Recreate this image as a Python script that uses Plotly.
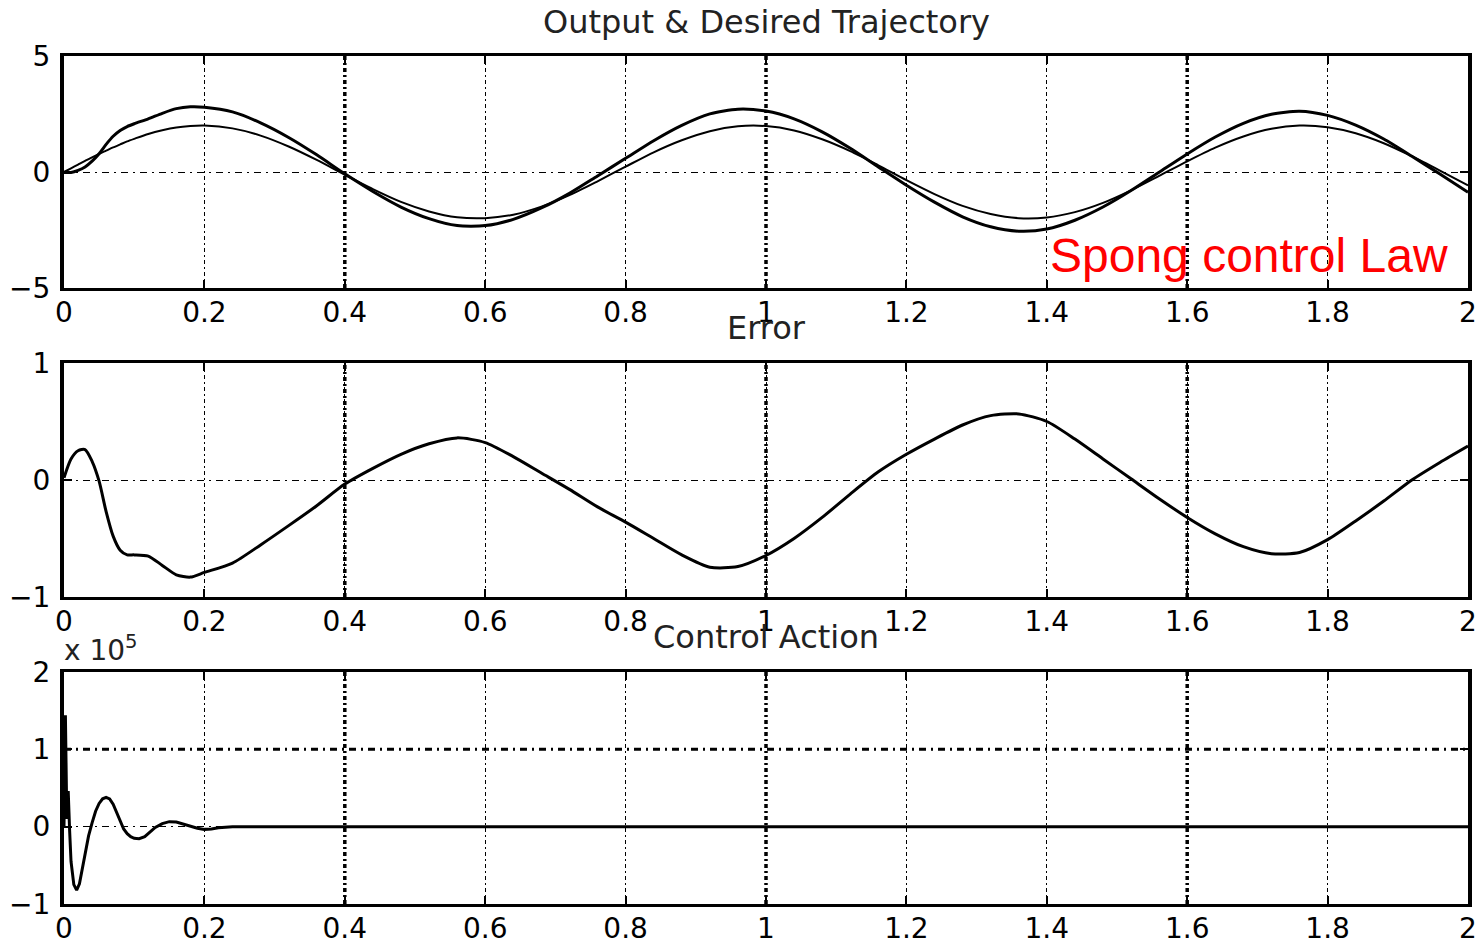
import plotly.graph_objects as go

# ---------------- data ----------------
t = [0.00, 0.01, 0.02, 0.03, 0.04, 0.05, 0.06, 0.07, 0.08, 0.09, 0.10,
     0.12, 0.14, 0.16, 0.18, 0.20, 0.24, 0.28, 0.32, 0.36, 0.40, 0.44,
     0.48, 0.52, 0.56, 0.60, 0.64, 0.68, 0.72, 0.76, 0.80, 0.84, 0.88,
     0.92, 0.96, 1.00, 1.04, 1.08, 1.12, 1.16, 1.20, 1.24, 1.28, 1.32,
     1.36, 1.40, 1.44, 1.48, 1.52, 1.56, 1.60, 1.64, 1.68, 1.72, 1.76,
     1.80, 1.84, 1.88, 1.92, 1.96, 2.00]

desired = [0.00, 0.16, 0.32, 0.48, 0.63, 0.78, 0.92, 1.06, 1.19, 1.32, 1.43,
           1.64, 1.80, 1.92, 1.98, 2.00, 1.88, 1.57, 1.10, 0.52, -0.12, -0.74,
           -1.29, -1.70, -1.95, -1.99, -1.84, -1.49, -1.00, -0.40, 0.23, 0.85, 1.37,
           1.76, 1.97, 1.98, 1.79, 1.41, 0.90, 0.29, -0.35, -0.95, -1.46, -1.81,
           -1.99, -1.96, -1.73, -1.33, -0.79, -0.17, 0.46, 1.05, 1.53, 1.86, 2.00,
           1.93, 1.67, 1.24, 0.68, 0.06, -0.58]

output = [-0.02, -0.02, 0.07, 0.22, 0.47, 0.79, 1.19, 1.54, 1.79, 1.96, 2.08,
          2.29, 2.53, 2.73, 2.81, 2.79, 2.59, 2.12, 1.49, 0.74, -0.08, -0.84,
          -1.51, -2.01, -2.31, -2.31, -2.04, -1.55, -0.92, -0.17, 0.59, 1.35, 2.01,
          2.505, 2.71, 2.625, 2.29, 1.73, 1.02, 0.22, -0.57, -1.30, -1.93, -2.36,
          -2.55, -2.46, -2.08, -1.51, -0.80, -0.01, 0.78, 1.51, 2.10, 2.49, 2.62,
          2.44, 2.02, 1.42, 0.68, -0.09, -0.87]

error = [0.02, 0.18, 0.25, 0.26, 0.16, -0.01, -0.27, -0.48, -0.60, -0.64, -0.64,
         -0.65, -0.73, -0.81, -0.83, -0.79, -0.71, -0.555, -0.39, -0.22, -0.035, 0.10,
         0.22, 0.31, 0.36, 0.32, 0.20, 0.06, -0.08, -0.23, -0.36, -0.50, -0.64,
         -0.745, -0.74, -0.645, -0.50, -0.32, -0.12, 0.07, 0.22, 0.35, 0.47, 0.55,
         0.565, 0.50, 0.35, 0.18, 0.01, -0.16, -0.32, -0.46, -0.57, -0.63, -0.62,
         -0.51, -0.35, -0.18, 0.00, 0.15, 0.29]

t_u = [0.000, 0.002, 0.004, 0.006, 0.008, 0.010, 0.014, 0.018, 0.022, 0.026,
       0.030, 0.035, 0.040, 0.045, 0.050, 0.055, 0.060, 0.065, 0.070, 0.075,
       0.080, 0.085, 0.090, 0.095, 0.100, 0.107, 0.115, 0.120, 0.125, 0.130,
       0.140, 0.150, 0.160, 0.170, 0.180, 0.190, 0.200, 0.210, 0.220, 0.240,
       0.300, 2.000]
control_e5 = [0.00, 1.44, 0.10, 0.46, -0.05, -0.45, -0.75, -0.82, -0.74, -0.55,
              -0.35, -0.12, 0.05, 0.20, 0.30, 0.36, 0.38, 0.36, 0.29, 0.18,
              0.06, -0.03, -0.09, -0.13, -0.15, -0.155, -0.13, -0.09, -0.05, -0.01,
              0.04, 0.065, 0.06, 0.03, 0.00, -0.02, -0.035, -0.03, -0.015, 0.00,
              0.00, 0.00]

x_ticks = [0, 0.2, 0.4, 0.6, 0.8, 1.0, 1.2, 1.4, 1.6, 1.8, 2.0]
x_ticktext = ["0", "0.2", "0.4", "0.6", "0.8", "1", "1.2", "1.4", "1.6", "1.8", "2"]
y1_ticks = [-5, 0, 5]
y2_ticks = [-1, 0, 1]
y3_ticks = [-1, 0, 1, 2]
heavy_grid_x = [0.4, 1.0, 1.6]
heavy_grid_y3 = [1]

titles = ["Output & Desired Trajectory", "Error", "Control Action"]

# ---------------- figure ----------------
W, H = 1484, 939
ML, MR = 64, 16
tick_font = dict(family="DejaVu Sans", size=28, color="black")
XDASH = "4px,3px,2px,3px"
YDASH = "7px,5px,2px,5px"

def pix_domain(top, bottom):
    return [1 - bottom / H, 1 - top / H]

domains = [pix_domain(56, 288), pix_domain(363, 597), pix_domain(672, 904)]
yranges = [[-5, 5], [-1, 1], [-1, 2]]
yticks = [y1_ticks, y2_ticks, y3_ticks]

smooth = dict(shape="spline", smoothing=0.7)
fig = go.Figure()
fig.add_trace(go.Scatter(x=t, y=desired, mode="lines",
                         line=dict(color="black", width=2, **smooth),
                         xaxis="x", yaxis="y", showlegend=False))
fig.add_trace(go.Scatter(x=t, y=output, mode="lines",
                         line=dict(color="black", width=3, **smooth),
                         xaxis="x", yaxis="y", showlegend=False))
fig.add_trace(go.Scatter(x=t, y=error, mode="lines",
                         line=dict(color="black", width=3, **smooth),
                         xaxis="x2", yaxis="y2", showlegend=False))
fig.add_trace(go.Scatter(x=t_u, y=control_e5, mode="lines",
                         line=dict(color="black", width=3),
                         xaxis="x3", yaxis="y3", showlegend=False))

layout = dict(
    width=W, height=H,
    margin=dict(l=ML, r=MR, t=0, b=0),
    paper_bgcolor="white", plot_bgcolor="white",
    showlegend=False,
)
for i in range(3):
    sx = "" if i == 0 else str(i + 1)
    layout["xaxis" + sx] = dict(
        domain=[0, 1], range=[0, 2], anchor="y" + sx,
        tickmode="array", tickvals=x_ticks, ticktext=x_ticktext,
        showgrid=True, gridcolor="black", gridwidth=1.3, griddash=XDASH,
        zeroline=False, showline=True, linecolor="black", linewidth=3,
        mirror="allticks", ticks="inside", ticklen=8, tickwidth=1.5, tickcolor="black",
        tickfont=tick_font, automargin=False, ticklabelstandoff=-3,
    )
    layout["yaxis" + sx] = dict(
        domain=domains[i], range=yranges[i], anchor="x" + sx,
        tickmode="array", tickvals=yticks[i],
        showgrid=True, gridcolor="black", gridwidth=1.3, griddash=YDASH,
        zeroline=False, showline=True, linecolor="black", linewidth=4,
        mirror="allticks", ticks="inside", ticklen=8, tickwidth=1.5, tickcolor="black",
        tickfont=tick_font, automargin=False, ticklabelstandoff=4,
    )
fig.update_layout(**layout)

# heavier grid lines (as in the reference image)
for i in range(3):
    sx = "" if i == 0 else str(i + 1)
    for xv in heavy_grid_x:
        fig.add_shape(type="line", xref="x" + sx, yref="y" + sx + " domain",
                      x0=xv, x1=xv, y0=0, y1=1, layer="below",
                      line=dict(color="black", width=3.5, dash=XDASH))
for yv in heavy_grid_y3:
    fig.add_shape(type="line", xref="x3 domain", yref="y3",
                  x0=0, x1=1, y0=yv, y1=yv, layer="below",
                  line=dict(color="black", width=3, dash=YDASH))

# titles
title_centers = [22, 328, 637]
for txt, yc in zip(titles, title_centers):
    fig.add_annotation(text=txt, xref="x domain", yref="paper", x=0.5, y=1 - yc / H,
                       xanchor="center", yanchor="middle", showarrow=False,
                       font=dict(family="DejaVu Sans", size=32, color="#222222"))

# exponent label
fig.add_annotation(text="x 10<sup>5</sup>", xref="x3 domain", yref="y3 domain",
                   x=0, y=1, xanchor="left", yanchor="middle", yshift=24, xshift=-2,
                   showarrow=False, font=dict(family="DejaVu Sans", size=28, color="#222222"))

# red label
fig.add_annotation(text="Spong control Law", xref="x domain", yref="y domain",
                   x=(1048 - ML) / (W - ML - MR), y=(288 - 256) / 232,
                   xanchor="left", yanchor="middle", showarrow=False,
                   font=dict(family="Liberation Sans", size=48, color="red"))

fig.write_html("out.html", config={"displayModeBar": False},
               post_script="document.body.style.margin='0';document.body.style.overflow='hidden';")
